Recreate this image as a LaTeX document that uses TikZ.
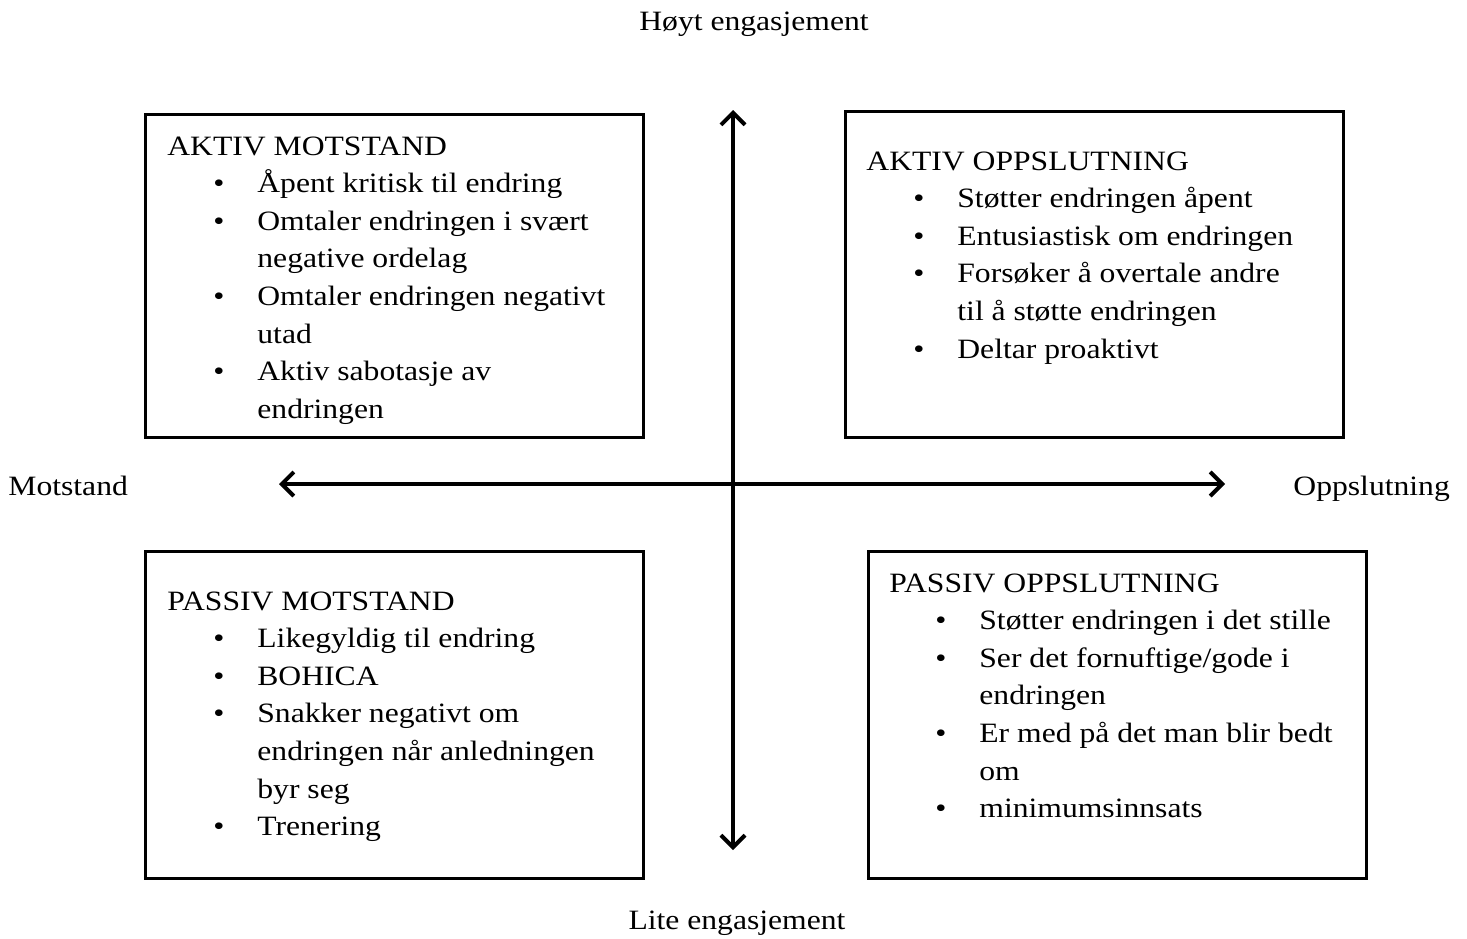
\documentclass[tikz,border=0pt]{standalone}
\usepackage{fontspec}
\setmainfont{Liberation Serif}[FakeStretch=1.13]
\usetikzlibrary{arrows.meta}
\tikzset{
  quad/.style={draw, line width=1.5pt},
  axis/.style={line width=2pt, {Straight Barb[length=6pt,width=12pt]}-{Straight Barb[length=6pt,width=12pt]}},
  lbl/.style={inner sep=0pt, font=\fontsize{14}{18.8}\selectfont},
  blist/.style={lbl, anchor=base west, align=left},
}
\newcommand{\bul}{\textbullet}
\newcommand{\qhead}[1]{\multicolumn{3}{@{}l@{}}{#1}}
\begin{document}
\begin{tikzpicture}[x=0.5pt,y=-0.5pt]
    \useasboundingbox (0,0) rectangle (1467,938);
    %% axes
    \coordinate (top) at (733,110);
    \coordinate (bot) at (733,850);
    \coordinate (lft) at (279,484);
    \coordinate (rgt) at (1225,484);
    \draw[axis] (top) -- (bot);
    \draw[axis] (lft) -- (rgt);
    %% axis labels
    \node[lbl, anchor=base] (hoy) at (754,30) {Høyt engasjement};
    \node[lbl, anchor=base] (lite) at (737,929) {Lite engasjement};
    \node[lbl, anchor=base west] (mot) at (8,495) {Motstand};
    \node[lbl, anchor=base west] (opp) at (1293,495) {Oppslutning};
    %% quadrant frames
    \draw[quad] (145,114) rectangle (643,437);
    \draw[quad] (845,111) rectangle (1343,437);
    \draw[quad] (145,551) rectangle (643,878);
    \draw[quad] (868,551) rectangle (1366,878);
    %% top left
    \node[blist] (am) at (167,155) {\begin{tabular}[t]{@{}p{23pt}@{}p{22pt}@{}l@{}}
      \qhead{AKTIV MOTSTAND}\\
      & \bul & Åpent kritisk til endring\\
      & \bul & Omtaler endringen i svært\\
      & & negative ordelag\\
      & \bul & Omtaler endringen negativt\\
      & & utad\\
      & \bul & Aktiv sabotasje av\\
      & & endringen
    \end{tabular}};
    %% top right
    \node[blist] (ao) at (866,170) {\begin{tabular}[t]{@{}p{23.5pt}@{}p{22pt}@{}l@{}}
      \qhead{AKTIV OPPSLUTNING}\\
      & \bul & Støtter endringen åpent\\
      & \bul & Entusiastisk om endringen\\
      & \bul & Forsøker å overtale andre\\
      & & til å støtte endringen\\
      & \bul & Deltar proaktivt
    \end{tabular}};
    %% bottom left
    \node[blist] (pm) at (167,610) {\begin{tabular}[t]{@{}p{23pt}@{}p{22pt}@{}l@{}}
      \qhead{PASSIV MOTSTAND}\\
      & \bul & Likegyldig til endring\\
      & \bul & BOHICA\\
      & \bul & Snakker negativt om\\
      & & endringen når anledningen\\
      & & byr seg\\
      & \bul & Trenering
    \end{tabular}};
    %% bottom right
    \node[blist] (po) at (889,592) {\begin{tabular}[t]{@{}p{23pt}@{}p{22pt}@{}l@{}}
      \qhead{PASSIV OPPSLUTNING}\\
      & \bul & Støtter endringen i det stille\\
      & \bul & Ser det fornuftige/gode i\\
      & & endringen\\
      & \bul & Er med på det man blir bedt\\
      & & om\\
      & \bul & minimumsinnsats
    \end{tabular}};
\end{tikzpicture}
\end{document}
